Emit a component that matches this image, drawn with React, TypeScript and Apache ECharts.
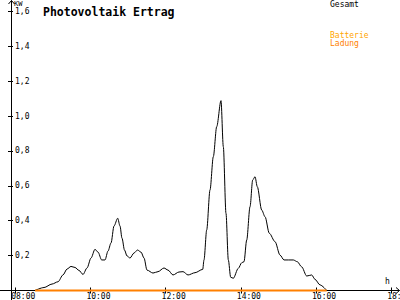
import React, { useEffect, useRef } from "react";
import * as echarts from "echarts";

// time in hours (decimal), power in kW
const gesamtTimes = [
  8.527, 8.766, 8.979, 9.138, 9.271, 9.378, 9.484, 9.59, 9.697, 9.803,
  9.91, 10.016, 10.122, 10.202, 10.3, 10.388, 10.468, 10.548, 10.628, 10.726,
  10.787, 10.84, 10.907, 10.973, 11.053, 11.16, 11.253, 11.346, 11.426, 11.505,
  11.665, 11.798, 11.957, 12.064, 12.197, 12.356, 12.463, 12.596, 12.782, 12.987,
  13.021, 13.093, 13.181, 13.269, 13.359, 13.473, 13.535, 13.606, 13.668, 13.731,
  13.8, 13.934, 14.024, 14.085, 14.157, 14.245, 14.316, 14.378, 14.439, 14.556,
  14.644, 14.758, 14.91, 15.043, 15.149, 15.397, 15.503, 15.617, 15.753, 15.886,
  15.973, 16.106, 16.285,
];
const gesamtValues = [
  0, 0.017, 0.037, 0.05, 0.089, 0.123, 0.138, 0.132, 0.115, 0.092,
  0.129, 0.186, 0.236, 0.22, 0.175, 0.175, 0.226, 0.272, 0.37, 0.414,
  0.37, 0.3, 0.232, 0.198, 0.186, 0.215, 0.232, 0.22, 0.186, 0.117,
  0.1, 0.108, 0.129, 0.117, 0.089, 0.106, 0.108, 0.089, 0.102, 0.121,
  0.175, 0.347, 0.576, 0.767, 0.939, 1.088, 0.824, 0.442, 0.175, 0.076,
  0.07, 0.127, 0.159, 0.165, 0.289, 0.48, 0.633, 0.652, 0.595, 0.461,
  0.423, 0.328, 0.28, 0.203, 0.175, 0.175, 0.165, 0.136, 0.083, 0.089,
  0.064, 0.032, 0,
];
const batterieTimes = [8.527, 16.285];
const batterieValues = [0, 0];

const xTickHours = [8, 10, 12, 14, 16, 18];
const yTickValues = [0.2, 0.4, 0.6, 0.8, 1.0, 1.2, 1.4, 1.6];

const X_MIN = 7.888;
const X_MAX = 18.234;
const Y_MAX = 1.6648;
const LABEL_SHIFT = 0.106; // hours, labels start slightly left of tick

const FONT = "DejaVu Sans Mono";

export default function App() {
  const ref = useRef<HTMLDivElement>(null);

  useEffect(() => {
    if (!ref.current) return;
    const chart = echarts.init(ref.current, undefined, { renderer: "svg" });

    const pad = (n: number) => (n < 10 ? "0" + n : "" + n);

    const xCommon = {
      type: "value" as const,
      min: X_MIN,
      max: X_MAX,
      position: "bottom" as const,
      axisLine: { show: false, onZero: false },
      splitLine: { show: false },
    };
    const yCommon = {
      type: "value" as const,
      min: 0,
      max: Y_MAX,
      position: "left" as const,
      axisLine: { show: false, onZero: false },
      splitLine: { show: false },
    };

    chart.setOption({
      animation: false,
      backgroundColor: "#ffffff",
      title: {
        text: "Photovoltaik Ertrag",
        left: 38,
        top: 1,
        textStyle: {
          fontFamily: FONT,
          fontWeight: "bold",
          fontSize: 11.5,
          color: "#000",
        },
      },
      grid: {
        left: 11,
        right: 0,
        top: 0,
        bottom: 9.5,
        containLabel: false,
        outerBoundsMode: "none",
      },
      xAxis: [
        {
          ...xCommon,
          axisTick: {
            show: true,
            inside: true,
            length: 3,
            customValues: xTickHours,
            lineStyle: { color: "#000", width: 1 },
          },
          axisLabel: {
            show: true,
            customValues: xTickHours.map((h) => h - LABEL_SHIFT),
            formatter: (v: number) => pad(Math.round(v + LABEL_SHIFT)) + ":00",
            align: "left",
            margin: 2,
            color: "#000",
            fontFamily: FONT,
            fontSize: 8,
            hideOverlap: false,
          },
        },
        {
          ...xCommon,
          axisTick: {
            show: true,
            inside: false,
            length: 3,
            customValues: xTickHours,
            lineStyle: { color: "#000", width: 1 },
          },
          axisLabel: { show: false },
        },
      ],
      yAxis: [
        {
          ...yCommon,
          axisTick: {
            show: true,
            inside: true,
            length: 2,
            customValues: yTickValues,
            lineStyle: { color: "#000", width: 1 },
          },
          axisLabel: {
            show: true,
            inside: true,
            margin: 4,
            customValues: yTickValues,
            formatter: (v: number) => v.toFixed(1).replace(".", ","),
            color: "#000",
            fontFamily: FONT,
            fontSize: 8,
          },
        },
        {
          ...yCommon,
          axisTick: {
            show: true,
            inside: false,
            length: 3,
            customValues: yTickValues,
            lineStyle: { color: "#000", width: 1 },
          },
          axisLabel: { show: false },
        },
      ],
      graphic: [
        // axis lines with open arrows
        { type: "line", shape: { x1: 0, y1: 290.5, x2: 399.5, y2: 290.5 }, style: { stroke: "#000", lineWidth: 1 }, z: -1 },
        { type: "line", shape: { x1: 11.5, y1: 0.5, x2: 11.5, y2: 300 }, style: { stroke: "#000", lineWidth: 1 }, z: -1 },
        { type: "polyline", shape: { points: [[8.5, 4], [11.5, 0.5], [14.5, 4]] }, style: { stroke: "#000", lineWidth: 1, fill: null }, z: -1 },
        { type: "polyline", shape: { points: [[396, 287.5], [399.5, 290.5], [396, 293.5]] }, style: { stroke: "#000", lineWidth: 1, fill: null }, z: -1 },
        { type: "text", x: 14, y: 0, style: { text: "KW", fontFamily: FONT, fontSize: 7, fill: "#000" } },
        { type: "text", x: 385, y: 277, style: { text: "h", fontFamily: FONT, fontSize: 8, fill: "#000" } },
        { type: "text", x: 330, y: 0, style: { text: "Gesamt", fontFamily: FONT, fontSize: 8, fill: "#000" } },
        { type: "text", x: 330, y: 31, style: { text: "Batterie", fontFamily: FONT, fontSize: 8, fill: "#ffa500" } },
        { type: "text", x: 330, y: 39.5, style: { text: "Ladung", fontFamily: FONT, fontSize: 8, fill: "#ff8000" } },
      ],
      series: [
        {
          name: "Gesamt",
          type: "line",
          xAxisIndex: 0,
          yAxisIndex: 0,
          data: gesamtTimes.map((t, i) => [t, gesamtValues[i]]),
          showSymbol: false,
          smooth: 0.3,
          smoothMonotone: "x",
          lineStyle: { color: "#000", width: 1 },
          clip: false,
          z: 2,
        },
        {
          name: "Batterie Ladung",
          type: "line",
          xAxisIndex: 0,
          yAxisIndex: 0,
          data: batterieTimes.map((t, i) => [t, batterieValues[i]]),
          showSymbol: false,
          lineStyle: { color: "#ff8000", width: 2 },
          clip: false,
          z: 3,
        },
      ],
    });

    return () => chart.dispose();
  }, []);

  return <div ref={ref} style={{ width: 400, height: 300, position: "absolute", left: 0, top: 0 }} />;
}
